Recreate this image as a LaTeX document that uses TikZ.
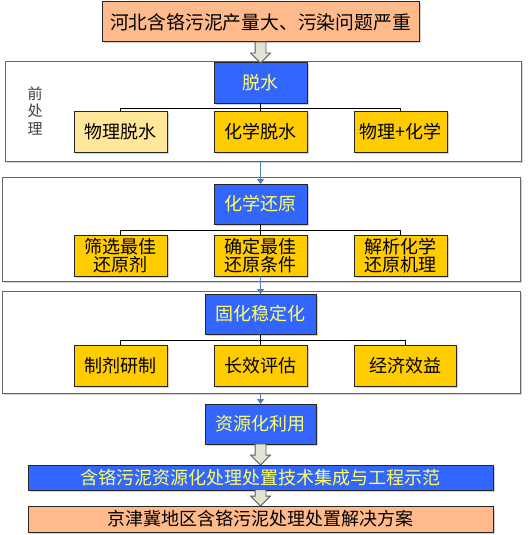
\documentclass[tikz,border=0pt]{standalone}
\usepackage{fontspec}
\setmainfont{Noto Sans CJK SC}
\usetikzlibrary{shapes.arrows,shadows,arrows.meta}
\definecolor{salmon}{HTML}{FFBA8C}
\definecolor{royal}{HTML}{3366FF}
\definecolor{gold}{HTML}{FFCC00}
\definecolor{pale}{HTML}{FFE699}
\definecolor{lemon}{HTML}{FFFF66}
\definecolor{sage}{HTML}{E1E4D0}
\definecolor{steel}{HTML}{4F81BD}
\tikzstyle{shade}=[drop shadow={shadow xshift=1.5pt, shadow yshift=-1.5pt, opacity=0.35}]
\tikzstyle{box}=[draw=black!85, line width=1pt, inner sep=0pt, outer sep=0pt, align=center, font=\fontsize{18}{18}\selectfont, shade]
\tikzstyle{task}=[box, fill=royal, text=lemon, minimum height=40pt]
\tikzstyle{sub}=[box, fill=gold, minimum width=93pt, minimum height=41pt]
\tikzstyle{panel}=[draw=black!60, line width=1pt, fill=white, inner sep=0pt, shade]
\tikzstyle{bigarrow}=[single arrow, draw=black!65, fill=sage, line width=0.8pt, rotate=-90, inner sep=5pt, outer sep=0pt, minimum width=19pt, single arrow head extend=4.5pt, single arrow head indent=0pt]
\tikzstyle{tree}=[black, line width=0.8pt]
\tikzstyle{flow}=[steel, line width=1.2pt, -{Triangle[width=7pt,length=5pt]}]

\begin{document}
\begin{tikzpicture}[x=1pt, y=-1pt]
	\useasboundingbox (0,0) rectangle (530,535);
	\node[panel, minimum width=516pt, minimum height=99pt] (pre) at (263,111.5) {};
	\node[panel, minimum width=518pt, minimum height=104pt] (redpanel) at (261,229) {};
	\node[panel, minimum width=518pt, minimum height=102pt] (solidpanel) at (261,342) {};
	\node[box, fill=salmon, minimum width=317pt, minimum height=40pt, font=\fontsize{18.8}{22}\selectfont] (issue) at (260.5,22) {河北含铬污泥产量大、污染问题严重};
	\node[font=\fontsize{15}{17.5}\selectfont, text=black!75, align=center] (prelbl) at (35,111) {前\\处\\理};
	\node[task, minimum width=93pt] (dew) at (260.5,83) {脱水};
	\node[sub, fill=pale] (phys) at (120.5,131.5) {物理脱水};
	\node[sub] (chem) at (260.5,131.5) {化学脱水};
	\node[sub] (both) at (400.5,131.5) {物理+化学};
	\node[task, minimum width=93pt] (red) at (260.5,204) {化学还原};
	\node[sub] (agent) at (120.5,255.5) {筛选最佳\\还原剂};
	\node[sub] (cond) at (260.5,255.5) {确定最佳\\还原条件};
	\node[sub] (mech) at (400.5,255.5) {解析化学\\还原机理};
	\node[task, minimum width=111pt] (solid) at (260.5,314) {固化稳定化};
	\node[sub] (prep) at (120.5,366) {制剂研制};
	\node[sub] (eval) at (260.5,366) {长效评估};
	\node[sub, minimum width=102pt] (econ) at (405,366) {经济效益};
	\node[task, minimum width=111pt] (reuse) at (260.5,424) {资源化利用};
	\node[box, fill=royal, text=lemon, minimum width=465pt, minimum height=25pt] (tech) at (260.5,477.5) {含铬污泥资源化处理处置技术集成与工程示范};
	\node[box, fill=salmon, minimum width=465pt, minimum height=26pt] (plan) at (260.5,519) {京津冀地区含铬污泥处理处置解决方案};
	\node[bigarrow, minimum height=21pt, anchor=tip] (a1) at (dew.north) {};
	\node[bigarrow, minimum height=21pt, anchor=tip] (a2) at (tech.north) {};
	\node[bigarrow, minimum height=16pt, anchor=tip] (a3) at (plan.north) {};
	\draw[tree] (dew.south) -- ++(0,5) coordinate (j1) -| (phys.north);
	\draw[tree] (j1) -| (both.north);
	\draw[tree] (j1) -- (chem.north);
	\draw[tree] (red.south) -- ++(0,6) coordinate (j2) -| (agent.north);
	\draw[tree] (j2) -| (mech.north);
	\draw[tree] (j2) -- (cond.north);
	\draw[tree] (solid.south) -- ++(0,6) coordinate (j3) -| (prep.north);
	\draw[tree] (j3) -| (econ.north);
	\draw[tree] (j3) -- (eval.north);
	\draw[flow] (pre.south -| red.north) -- (red.north);
	\draw[flow] (cond.south) -- (solid.north);
	\draw[flow] (solidpanel.south -| reuse.north) -- (reuse.north);
\end{tikzpicture}
\end{document}
